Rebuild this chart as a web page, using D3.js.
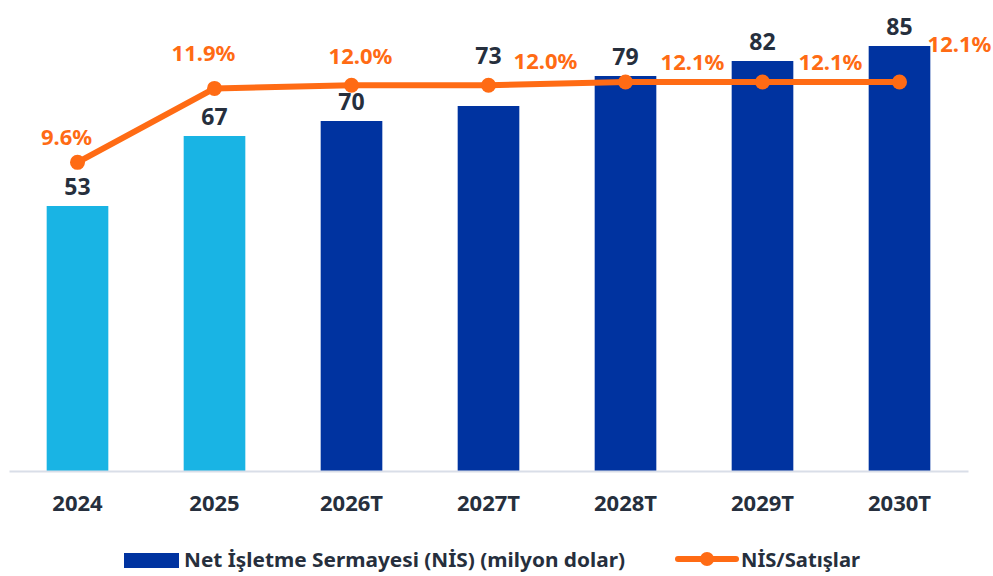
<!DOCTYPE html>
<html>
<head>
<meta charset="utf-8">
<script src="https://cdn.jsdelivr.net/npm/d3@7"></script>
<style>
  body { margin: 0; background: #fff; }
  text { font-family: "Noto Sans", "Open Sans", sans-serif; font-weight: bold; }
</style>
</head>
<body>
<svg id="chart" width="993" height="576"></svg>
<script>
var years = ["2024", "2025", "2026T", "2027T", "2028T", "2029T", "2030T"];
var nis = [53, 67, 70, 73, 79, 82, 85];
var nisPct = [9.6, 11.9, 12.0, 12.0, 12.1, 12.1, 12.1];

var svg = d3.select("#chart"),
    baseY = 471,
    dark = "#0033A0",
    light = "#19B4E4",
    orange = "#FF6B14",
    ink = "#262F3D";

var x = d3.scaleBand()
    .domain(years)
    .range([9, 968])
    .paddingInner(0.55)
    .paddingOuter(0.275);

var y = d3.scaleLinear().domain([0, 94.2]).range([baseY, 0]);
var y2 = d3.scaleLinear().domain([0, 14.65]).range([baseY, 0]);

// bars
svg.append("g")
  .selectAll("rect")
  .data(nis)
  .enter().append("rect")
    .attr("x", function(d, i) { return x(years[i]); })
    .attr("y", function(d) { return y(d); })
    .attr("width", x.bandwidth())
    .attr("height", function(d) { return baseY - y(d); })
    .attr("fill", function(d, i) { return years[i].slice(-1) === "T" ? dark : light; });

// x axis
var xAxis = svg.append("g")
    .attr("transform", "translate(0," + baseY + ")")
    .call(d3.axisBottom(x).tickSize(0).tickPadding(24));
xAxis.select(".domain").attr("stroke", "#D9DEE8").attr("stroke-width", 2);
xAxis.selectAll("text")
    .attr("fill", ink)
    .style("font-size", "22px")
    .style("font-family", "'Noto Sans', sans-serif")
    .style("font-weight", "bold");

// line
var cx = function(i) { return x(years[i]) + x.bandwidth() / 2; };
var line = d3.line()
    .x(function(d, i) { return cx(i); })
    .y(function(d) { return y2(d); });

svg.append("path")
    .datum(nisPct)
    .attr("d", line)
    .attr("fill", "none")
    .attr("stroke", orange)
    .attr("stroke-width", 6)
    .attr("stroke-linejoin", "round");

svg.append("g")
  .selectAll("circle")
  .data(nisPct)
  .enter().append("circle")
    .attr("cx", function(d, i) { return cx(i); })
    .attr("cy", function(d) { return y2(d); })
    .attr("r", 7.5)
    .attr("fill", orange);

// bar value labels (moved above the line when they would hit it)
svg.append("g")
  .selectAll("text")
  .data(nis)
  .enter().append("text")
    .attr("x", function(d, i) { return cx(i); })
    .attr("y", function(d, i) {
      var ly = y(d) - 19, lineY = y2(nisPct[i]);
      if (Math.abs(ly - lineY) < 12) ly = lineY - 29;
      return ly;
    })
    .attr("dy", "0.35em")
    .attr("text-anchor", "middle")
    .attr("fill", ink)
    .style("font-size", "23px")
    .text(function(d) { return d; });

// percentage labels: offset from marker
var pctOffset = [[-11, -25], [-11, -35], [9, -29], [57, -24], [67, -20], [68, -20], [60, -38]];
svg.append("g")
  .selectAll("text")
  .data(nisPct)
  .enter().append("text")
    .attr("x", function(d, i) { return cx(i) + pctOffset[i][0]; })
    .attr("y", function(d, i) { return y2(d) + pctOffset[i][1]; })
    .attr("dy", "0.35em")
    .attr("text-anchor", "middle")
    .attr("fill", orange)
    .style("font-size", "22px")
    .text(function(d) { return d.toFixed(1) + "%"; });

// legend
var legend = svg.append("g");
legend.append("rect")
    .attr("x", 124).attr("y", 553)
    .attr("width", 55).attr("height", 15)
    .attr("fill", dark);
legend.append("text")
    .attr("x", 184).attr("y", 560)
    .attr("dy", "0.35em")
    .attr("fill", ink)
    .style("font-size", "20px")
    .attr("textLength", 441)
    .attr("lengthAdjust", "spacingAndGlyphs")
    .text("Net İşletme Sermayesi (NİS) (milyon dolar)");
legend.append("line")
    .attr("x1", 678).attr("x2", 736)
    .attr("y1", 559).attr("y2", 559)
    .attr("stroke", orange).attr("stroke-width", 6)
    .attr("stroke-linecap", "round");
legend.append("circle")
    .attr("cx", 707).attr("cy", 559).attr("r", 7)
    .attr("fill", orange);
legend.append("text")
    .attr("x", 741).attr("y", 560)
    .attr("dy", "0.35em")
    .attr("fill", ink)
    .style("font-size", "20px")
    .attr("textLength", 119)
    .attr("lengthAdjust", "spacingAndGlyphs")
    .text("NİS/Satışlar");
</script>
</body>
</html>
